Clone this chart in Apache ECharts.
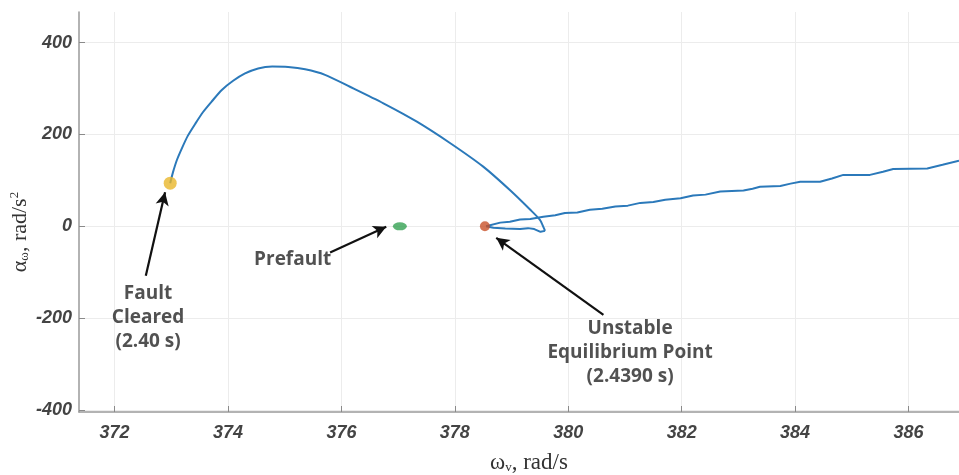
<!DOCTYPE html>
<html>
<head>
<meta charset="utf-8">
<script src="https://cdn.jsdelivr.net/npm/echarts@6/dist/echarts.min.js"></script>
<style>
  html, body { margin: 0; padding: 0; background: #ffffff; }
  #chart { width: 959px; height: 475px; }
</style>
</head>
<body>
<div id="chart"></div>
<script>
// Phase-plane trajectory: rotor speed (rad/s) vs. acceleration (rad/s^2)

// Post-fault swing: from fault clearing up over the crest and down to the turn-around
const swingArc = [
  [372.98, 94], [373.03, 118], [373.10, 145], [373.19, 171], [373.29, 197],
  [373.42, 223], [373.56, 249], [373.72, 273], [373.89, 297], [374.09, 317],
  [374.30, 333], [374.53, 344], [374.78, 348], [375.06, 347], [375.36, 342],
  [375.71, 330], [376.15, 304], [376.74, 268], [377.33, 228], [377.92, 181],
  [378.50, 130], [378.97, 79], [379.33, 36], [379.50, 14], [379.57, -4],
  [379.59, -10]
];

// Short return leg back toward the unstable equilibrium
const returnPath = [
  [379.59, -10], [379.51, -12], [379.40, -6], [379.29, -4], [379.15, -6],
  [378.89, -5], [378.68, -3], [378.55, 0]
];

// Run-away branch after passing the unstable equilibrium
const runawayPath = [
  [378.55, 0], [378.80, 8], [378.97, 10], [379.15, 15], [379.33, 16],
  [379.56, 21], [379.77, 24], [379.94, 29], [380.16, 30], [380.38, 36],
  [380.60, 38], [380.83, 43], [381.05, 45], [381.27, 51], [381.50, 53],
  [381.71, 58], [381.98, 61], [382.20, 67], [382.42, 69], [382.68, 76],
  [383.09, 78], [383.25, 82], [383.38, 86], [383.74, 88], [383.92, 93],
  [384.09, 97], [384.44, 97], [384.65, 104], [384.85, 112], [385.32, 112],
  [385.55, 119], [385.73, 125], [386.33, 126], [386.60, 134], [386.89, 143]
];

// Marked operating points
const faultCleared = [[372.98, 94]];
const prefault = [[377.03, 0]];
const unstableEq = [[378.53, 0]];

// Tick values
const xTicks = [372, 374, 376, 378, 380, 382, 384, 386];
const yTicks = [-400, -200, 0, 200, 400];

// Annotation text anchors and arrows (data coordinates)
const noteTexts = [
  { name: 'Fault\nCleared\n(2.40 s)', value: [372.59, -200], align: 'center' },
  { name: 'Prefault', value: [375.82, -73], align: 'right' },
  { name: 'Unstable\nEquilibrium Point\n(2.4390 s)', value: [381.09, -276], align: 'center' }
];
const noteArrows = [
  [[372.55, -108], [372.89, 74]],
  [[375.80, -57], [376.79, -1]],
  [[380.62, -193], [378.73, -25]]
];

const lineColor = '#2b79ba';
const serif = 'Liberation Serif, DejaVu Serif, serif';
const tickFont = {
  fontFamily: 'Liberation Sans, Arial, sans-serif',
  fontStyle: 'italic',
  fontWeight: 'bold',
  fontSize: 18,
  color: '#444444'
};

const chart = echarts.init(document.getElementById('chart'), null, { renderer: 'canvas' });

chart.setOption({
  animation: false,
  backgroundColor: '#ffffff',
  grid: { left: 79, right: 0, top: 12, bottom: 63, containLabel: false, outerBoundsMode: 'none' },
  xAxis: {
    type: 'value',
    min: 371.372,
    max: 386.89,
    axisLine: { show: true, onZero: false, lineStyle: { color: '#9a9a9a', width: 1.5 } },
    axisTick: { show: true, inside: true, length: 6, customValues: xTicks, lineStyle: { color: '#8a8a8a' } },
    axisLabel: Object.assign({ customValues: xTicks, margin: 12 }, tickFont),
    splitLine: { show: true, lineStyle: { color: '#ececec', width: 1 } }
  },
  yAxis: {
    type: 'value',
    min: -404.6,
    max: 466.9,
    axisLine: { show: true, onZero: false, lineStyle: { color: '#9a9a9a', width: 1.5 } },
    axisTick: { show: true, inside: true, length: 6, customValues: yTicks, lineStyle: { color: '#8a8a8a' } },
    axisLabel: Object.assign({ customValues: yTicks, margin: 7 }, tickFont),
    splitLine: { show: true, lineStyle: { color: '#ececec', width: 1 } }
  },
  graphic: [
    {
      // horizontal axis title
      type: 'text',
      x: 529,
      y: 463,
      style: {
        text: '{w|ω}{sub|v}{t|, rad/s}',
        align: 'center',
        verticalAlign: 'middle',
        rich: {
          w: { fontFamily: serif, fontSize: 23, fill: '#333' },
          sub: { fontFamily: serif, fontSize: 13, fill: '#333', padding: [10, 0, 0, 0] },
          t: { fontFamily: serif, fontSize: 23, fill: '#333' }
        }
      }
    },
    {
      // vertical axis title
      type: 'text',
      x: 20,
      y: 232,
      rotation: Math.PI / 2,
      style: {
        text: '{a|α}{sub|ω}{t|, rad/s}{sup|2}',
        align: 'center',
        verticalAlign: 'middle',
        rich: {
          a: { fontFamily: serif, fontSize: 22, fill: '#333' },
          sub: { fontFamily: serif, fontSize: 13, fill: '#333', padding: [10, 0, 0, 0] },
          t: { fontFamily: serif, fontSize: 22, fill: '#333' },
          sup: { fontFamily: serif, fontSize: 13, fill: '#333', padding: [0, 0, 10, 0] }
        }
      }
    }
  ],
  series: [
    {
      name: 'swing',
      type: 'line',
      data: swingArc,
      smooth: 0.25,
      showSymbol: false,
      lineStyle: { color: lineColor, width: 2 },
      z: 3
    },
    {
      name: 'return',
      type: 'line',
      data: returnPath,
      showSymbol: false,
      lineStyle: { color: lineColor, width: 2 },
      z: 3
    },
    {
      name: 'runaway',
      type: 'line',
      data: runawayPath,
      showSymbol: false,
      lineStyle: { color: lineColor, width: 2 },
      z: 3
    },
    {
      name: 'Fault Cleared',
      type: 'scatter',
      data: faultCleared,
      symbol: 'circle',
      symbolSize: 13,
      itemStyle: { color: '#e9b62c' },
      z: 5
    },
    {
      name: 'Prefault',
      type: 'scatter',
      data: prefault,
      symbol: 'circle',
      symbolSize: [14, 8],
      itemStyle: { color: '#35a153' },
      z: 5
    },
    {
      name: 'Unstable Equilibrium',
      type: 'scatter',
      data: unstableEq,
      symbol: 'circle',
      symbolSize: 10,
      itemStyle: { color: '#c9522a' },
      z: 5
    },
    {
      name: 'notes',
      type: 'scatter',
      data: noteTexts.map(n => ({
        name: n.name,
        value: n.value,
        label: { align: n.align }
      })),
      symbolSize: 0,
      silent: true,
      label: {
        show: true,
        position: 'inside',
        formatter: p => p.name,
        fontFamily: 'Open Sans, sans-serif',
        fontWeight: 'bold',
        fontSize: 19,
        lineHeight: 24,
        color: '#262626'
      },
      z: 6
    },
    {
      name: 'arrows',
      type: 'line',
      data: [],
      silent: true,
      markLine: {
        silent: true,
        symbol: ['none', 'arrow'],
        symbolSize: 12,
        label: { show: false },
        lineStyle: { color: '#111111', width: 2.2, type: 'solid' },
        itemStyle: { color: '#111111' },
        data: noteArrows.map(a => [
          { coord: a[0], symbol: 'none' },
          { coord: a[1], symbol: 'arrow', symbolSize: [10, 13] }
        ])
      },
      z: 6
    }
  ]
});
</script>
</body>
</html>
